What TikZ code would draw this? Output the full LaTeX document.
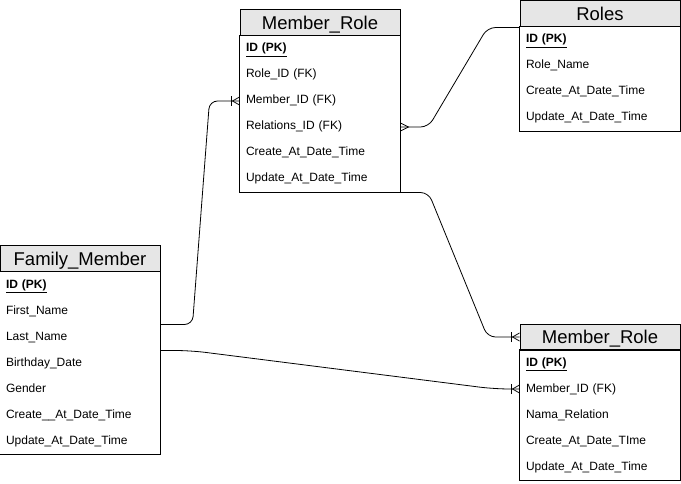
\documentclass[tikz,border=0pt]{standalone}
\usepackage{fontspec}
\setmainfont{Liberation Sans}
\usetikzlibrary{positioning}
\definecolor{headgray}{HTML}{E6E6E6}
\tikzset{every picture/.style={line width=1pt}}
\tikzset{
  head/.style={draw, fill=headgray, minimum width=160pt, minimum height=26pt,
    inner sep=0pt, text height=16.5pt, text depth=3pt,
    font=\fontsize{18.5}{20}\selectfont},
  field/.style={minimum width=160pt, minimum height=26pt, text width=148pt,
    inner xsep=6pt, inner ysep=0pt, align=left, text height=9pt, text depth=3pt,
    font=\fontsize{12}{14}\selectfont},
  rel/.style={line width=0.8pt, rounded corners=8pt},
  onemany/.pic={
    \draw[line width=0.8pt] (-8pt,-5pt) -- (-8pt,5pt);
    \draw[line width=0.8pt] (0pt,-4pt) -- (-7pt,0pt) -- (0pt,4pt);
  },
  manyend/.pic={
    \draw[line width=0.8pt] (0pt,-4pt) -- (-8pt,0pt) -- (0pt,4pt);
  }
}
\newcommand{\pkey}{\underline{\textbf{ID (PK)}}}

\begin{document}
\begin{tikzpicture}[x=1pt, y=-1pt]
  \useasboundingbox (0,0) rectangle (681,484);

  % --- Member_Role (haut) ---
  \node[head] (mr) at (320,23) {Member\_Role};
  \foreach \t [count=\i] in {\pkey, Role\_ID (FK), Member\_ID (FK),
                             Relations\_ID (FK), Create\_At\_Date\_Time,
                             Update\_At\_Date\_Time}
    \node[field] (mr-\i) at (320,{23+26*\i}) {\t};
  \draw (mr-1.north west) rectangle (mr-6.south east);

  % --- Roles ---
  \node[head] (ro) at (600,14) {Roles};
  \foreach \t [count=\i] in {\pkey, Role\_Name, Create\_At\_Date\_Time,
                             Update\_At\_Date\_Time}
    \node[field] (ro-\i) at (600,{14+26*\i}) {\t};
  \draw (ro-1.north west) rectangle (ro-4.south east);

  % --- Family_Member ---
  \node[head] (fm) at (80,259) {Family\_Member};
  \foreach \t [count=\i] in {\pkey, First\_Name, Last\_Name, Birthday\_Date,
                             Gender, Create\_\_At\_Date\_Time,
                             Update\_At\_Date\_Time}
    \node[field] (fm-\i) at (80,{259+26*\i}) {\t};
  \draw (fm-1.north west) rectangle (fm-7.south east);

  % --- Member_Role (bas) ---
  \node[head] (mb) at (600,337) {Member\_Role};
  \foreach \t [count=\i] in {\pkey, Member\_ID (FK), Nama\_Relation,
                             Create\_At\_Date\_TIme, Update\_At\_Date\_Time}
    \node[field] (mb-\i) at (600,{337+26*\i}) {\t};
  \draw (mb-1.north west) rectangle (mb-5.south east);

  % --- relations ---
  \draw[rel] (fm-2.south east) -- ++(32,0) -- ([xshift=-30pt]mr-3.west) -- (mr-3.west);
  \draw[rel] (mr-4.east) -- ++(28,0) -- ([xshift=-32pt]ro.south west) -- (ro.south west);
  \draw[rel] (mr-6.south east) -- ++(28,0) -- ([xshift=-32pt]mb.west) -- (mb.west);
  \draw[rel, rounded corners=15pt] (fm-3.south east) -- ++(30,0)
    -- ([xshift=-25pt]mb-2.west) -- (mb-2.west);

  \pic at (mr-3.west) {onemany};
  \pic at (mb.west) {onemany};
  \pic at (mb-2.west) {onemany};
  \pic[xscale=-1] at (mr-4.east) {manyend};
\end{tikzpicture}
\end{document}
